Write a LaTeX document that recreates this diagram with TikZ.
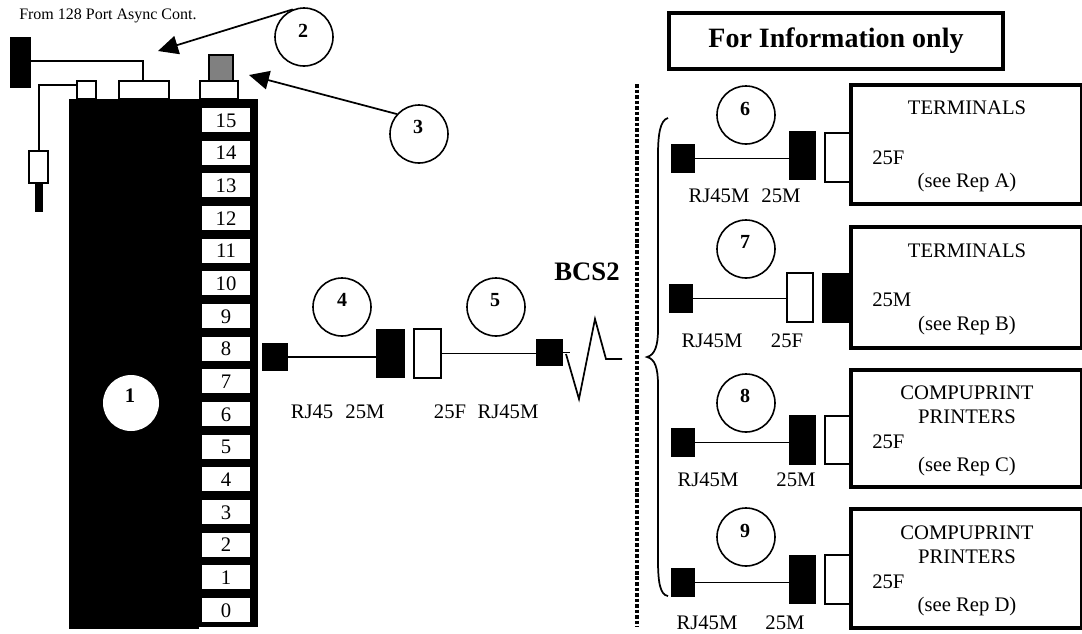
\documentclass[tikz,border=0pt]{standalone}
\usepackage{fontspec}
\setmainfont{Liberation Serif}
\usetikzlibrary{arrows.meta}
\newcommand{\bx}[6]{\node[#1,minimum width={(#5-#3)*0.75pt},minimum height={(#6-#4)*0.75pt}] (#2) at ({(#3+#5)/2},{(#4+#6)/2}) {};}
\newcommand{\lbl}[3]{\node[txt] (#1) at #2 {#3};}
\begin{document}
\begin{tikzpicture}[x=0.75pt,y=-0.75pt,
  blk/.style={fill=black,draw=none,inner sep=0pt,outer sep=0pt},
  wht/.style={fill=white,draw=black,line width=1.2pt,inner sep=0pt,outer sep=0pt},
  gry/.style={fill=black!50,draw=black,line width=1.2pt,inner sep=0pt,outer sep=0pt},
  slot/.style={fill=white,draw=none,inner sep=0pt,outer sep=0pt,font=\fontsize{15.5pt}{15.5pt}\selectfont,text height=10.5pt,text depth=0pt},
  dev/.style={fill=white,draw=black,line width=2.8pt,inner sep=0pt,outer sep=0pt},
  num/.style={circle,draw=black,fill=white,line width=1.2pt,minimum size=43.5pt,inner sep=0pt},
  nn/.style={font=\bfseries\fontsize{15pt}{15pt}\selectfont,inner sep=0pt},
  txt/.style={anchor=base,inner sep=0pt,font=\fontsize{15.5pt}{15.5pt}\selectfont},
  wire/.style={draw=black,line width=1.3pt},
  arr/.style={draw=black,line width=1.3pt,-{Triangle[length=15pt,width=14pt]}}]
\useasboundingbox (0,0) rectangle (1082,633);
% chassis
\bx{blk}{chassis}{69}{99}{199}{629}
\bx{blk}{strip}{198}{99}{258}{627}
\foreach \n [count=\i from 0] in {15,14,...,0}{
  \pgfmathsetmacro{\ya}{108+32.67*\i}
  \pgfmathsetmacro{\yb}{\ya+24}
  \node[slot,minimum width=36pt,minimum height=18pt] (s\n) at (226,{(\ya+\yb)/2}) {\n};
}
\node[circle,fill=white,draw=none,minimum size=42pt,inner sep=0pt] (c1) at (131,403) {};
\node[nn,font=\fontsize{15.5pt}{15.5pt}\selectfont\bfseries] (n1) at (130,396) {1};
% top connectors
\bx{wht}{pa}{77}{81}{96}{99}
\bx{wht}{pb}{119}{81}{169}{99}
\bx{wht}{pc}{200}{81}{238}{99}
\bx{gry}{pd}{209}{55}{233}{81}
\bx{blk}{src}{10}{37}{31}{88}
\bx{wht}{plug}{29}{151}{48}{183}
\bx{blk}{plugb}{35}{183}{43}{212}
\coordinate (j1) at (143,61);
\coordinate (j2) at (39,85);
\draw[wire] (src.east |- j1) -- (j1) -- (j1 |- pb.north);
\draw[wire] (pa.west |- j2) -- (j2) -- (j2 |- plug.north);
\node[anchor=base west,inner sep=0pt,font=\fontsize{12pt}{12pt}\selectfont] (from) at (19,19) {From 128 Port Async Cont.};
% callouts
\node[num] (c2) at (304,37) {}; \node[nn] (n2) at (303,31) {2};
\node[num] (c3) at (419,134) {}; \node[nn] (n3) at (418,127) {3};
\coordinate (t2) at (158,51);
\coordinate (t3) at (249,75);
\draw[arr] (c2.112) -- (t2);
\draw[arr] (c3.138) -- (t3);
% title
\node[draw=black,line width=2.8pt,minimum width=250pt,minimum height=42pt,inner sep=0pt,font=\bfseries\fontsize{21pt}{21pt}\selectfont] (title) at (836,41) {For Information only};
% dotted divider
\coordinate (da) at (637,84);
\coordinate (db) at (637,627);
\draw[line width=2.7pt,dash pattern=on 2.7pt off 1.45pt] (da) -- (db);
% row 4/5
\bx{blk}{a4}{262}{343}{288}{371}
\bx{blk}{b4}{376}{329}{404.5}{378}
\bx{wht}{w5}{414}{329}{441}{378}
\bx{blk}{a5}{536}{339}{563}{366}
\draw[wire] (a4.east) -- (a4.east -| b4.west);
\draw[wire] (w5.east) -- (w5.east -| a5.west);
\coordinate (z1) at (570,354);
\coordinate (z0) at (566,354);
\coordinate (z2) at (579,399);
\coordinate (z3) at (595,319);
\coordinate (z4) at (606,359);
\coordinate (z5) at (622,359);
\draw[wire] (a5.east) -- (a5.east -| z1);
\draw[wire] (z0) -- (z2) -- (z3) -- (z4) -- (z5);
\node[num] (c4) at (342,307) {}; \node[nn] (n4) at (342,300) {4};
\node[num] (c5) at (496,307) {}; \node[nn] (n5) at (495,300) {5};
\lbl{l41}{(312,418)}{RJ45}
\lbl{l42}{(365,418)}{25M}
\lbl{l51}{(450,418)}{25F}
\lbl{l52}{(508,418)}{RJ45M}
\node[anchor=base,inner sep=0pt,font=\bfseries\fontsize{20pt}{20pt}\selectfont] (bcs) at (587,280) {BCS2};
% brace
\coordinate (br1) at (668,118);
\coordinate (br2) at (647,357);
\coordinate (br3) at (668,596);
\draw[wire] (br1) .. controls (660,120) and (658,135) .. (658,155) -- (658,330) .. controls (658,345) and (655,355) .. (br2) .. controls (655,359) and (658,368) .. (658,385) -- (658,560) .. controls (658,582) and (660,595) .. (br3);
% devices
\bx{dev}{d6}{851}{85}{1082}{204}
\bx{dev}{d7}{851}{227}{1082}{348}
\bx{dev}{d8}{851}{370}{1082}{487}
\bx{dev}{d9}{851}{509}{1082}{628}
% row 6
\bx{blk}{a6}{671}{144}{695}{173}
\bx{blk}{b6}{789}{131}{816}{180}
\bx{wht}{w6}{825}{133}{850}{182}
\draw[wire] (a6.east) -- (a6.east -| b6.west);
\node[num] (c6) at (746,115) {}; \node[nn] (n6) at (745,109) {6};
\lbl{l61}{(719,202)}{RJ45M}
\lbl{l62}{(781,202)}{25M}
\lbl{t61}{(967,114)}{TERMINALS}
\node[txt,anchor=base west] (t62) at (872,164) {25F};
\lbl{t63}{(967,187)}{(see Rep A)}
% row 7
\bx{blk}{a7}{669}{284}{692.5}{313}
\bx{wht}{w7}{787}{273}{813}{322}
\bx{blk}{b7}{822}{273}{850}{323}
\draw[wire] (a7.east) -- (a7.east -| w7.west);
\node[num] (c7) at (746,249) {}; \node[nn] (n7) at (745,242) {7};
\lbl{l71}{(712,347)}{RJ45M}
\lbl{l72}{(787,347)}{25F}
\lbl{t71}{(967,257)}{TERMINALS}
\node[txt,anchor=base west] (t72) at (872,306) {25M};
\lbl{t73}{(967,330)}{(see Rep B)}
% row 8
\bx{blk}{a8}{671}{428}{695}{457}
\bx{blk}{b8}{789}{415}{816}{465}
\bx{wht}{w8}{825}{416}{850}{464}
\draw[wire] (a8.east) -- (a8.east -| b8.west);
\node[num] (c8) at (746,403) {}; \node[nn] (n8) at (745,396) {8};
\lbl{l81}{(708,486)}{RJ45M}
\lbl{l82}{(796,486)}{25M}
\lbl{t81}{(967,399)}{COMPUPRINT}
\lbl{t82}{(967,423)}{PRINTERS}
\node[txt,anchor=base west] (t83) at (872,448) {25F};
\lbl{t84}{(967,471)}{(see Rep C)}
% row 9
\bx{blk}{a9}{671}{568}{695}{597}
\bx{blk}{b9}{789}{555}{816}{604}
\bx{wht}{w9}{825}{555}{850}{604}
\draw[wire] (a9.east) -- (a9.east -| b9.west);
\node[num] (c9) at (746,537) {}; \node[nn] (n9) at (745,531) {9};
\lbl{l91}{(707,629)}{RJ45M}
\lbl{l92}{(785,629)}{25M}
\lbl{t91}{(967,539)}{COMPUPRINT}
\lbl{t92}{(967,563)}{PRINTERS}
\node[txt,anchor=base west] (t93) at (872,588) {25F};
\lbl{t94}{(967,611)}{(see Rep D)}
\end{tikzpicture}
\end{document}
